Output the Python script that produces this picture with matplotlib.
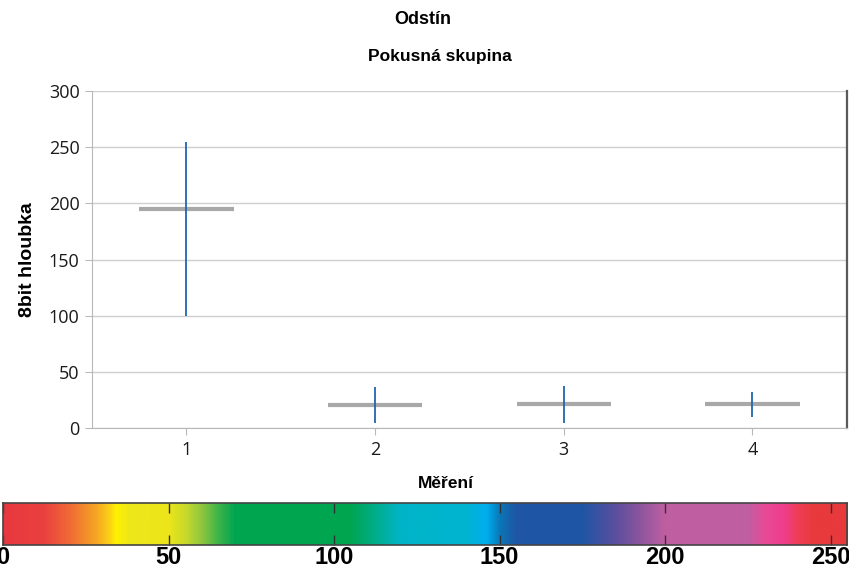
import numpy as np
import matplotlib
matplotlib.use("Agg")
import matplotlib.pyplot as plt
from matplotlib import font_manager
from matplotlib.colors import LinearSegmentedColormap

# ---- data -------------------------------------------------------------
measurements = [1, 2, 3, 4]
mean_vals = [195, 20.5, 21.5, 21.5]
min_vals = [100, 4.5, 4.5, 9.5]
max_vals = [255, 36.5, 37.5, 32]

y_ticks = [0, 50, 100, 150, 200, 250, 300]
hue_ticks = [0, 50, 100, 150, 200, 250]

# hue scale stops (value, colour)
hue_stops = [0, 12, 20, 28, 32, 34, 38, 50, 55, 60, 65, 70, 105, 115, 120,
             140, 146, 150, 155, 175, 185, 192, 200, 225, 230, 236, 240, 245, 255]
hue_colors = ["#e8383f", "#ea4040", "#f06a35", "#f5a623", "#fcd116", "#fff200",
              "#ede71a", "#ebe51a", "#c8d92b", "#8dc63f", "#3cb449", "#00a550",
              "#00a550", "#00b0a0", "#00b4c8", "#00b4d0", "#00aeef", "#0a77b8",
              "#1f55a5", "#1f55a5", "#5b4f9e", "#8a559e", "#bf5fa1", "#bf5fa1",
              "#e84a98", "#ee3e8a", "#ef3d57", "#e8393c", "#e8393c"]

# ---- fonts ------------------------------------------------------------
names = {f.name for f in font_manager.fontManager.ttflist}
narrow = "Liberation Sans Narrow" if "Liberation Sans Narrow" in names else "Liberation Sans"
tick_font = "Open Sans"
bold_font = "Liberation Sans"

fig = plt.figure(figsize=(8.49, 5.70), dpi=100)

# ---- main chart -------------------------------------------------------
ax = fig.add_axes([0.1084, 0.249, 0.889, 0.5913])
ax.vlines(measurements, min_vals, max_vals, color="#1f66b0", lw=1.3, zorder=3)
ax.hlines(mean_vals, np.array(measurements) - 0.25, np.array(measurements) + 0.25,
          color="#a8a8a8", lw=3.0, zorder=2)

ax.set_xlim(0.5, 4.5)
ax.set_ylim(0, 300)
ax.set_yticks(y_ticks)
ax.set_xticks(measurements)
ax.grid(axis="y", color="#cfcfcf", lw=1.0)
ax.set_axisbelow(True)
for s in ["left", "bottom"]:
    ax.spines[s].set_color("#b8b8b8")
ax.spines["top"].set_visible(False)
ax.spines["right"].set_color("#5a5a5a")
ax.spines["right"].set_linewidth(1.6)
ax.tick_params(axis="both", length=5, color="#b8b8b8", labelsize=13, pad=4)
for lab in ax.get_xticklabels() + ax.get_yticklabels():
    lab.set_family(tick_font)
    lab.set_color("#1a1a1a")

ax.set_ylabel("8bit hloubka", fontsize=14, fontweight="bold", family=bold_font, labelpad=9)

fig.text(0.498, 0.965, "Odstín", ha="center", va="center", fontsize=13,
         fontweight="bold", family=bold_font)
fig.text(0.518, 0.900, "Pokusná skupina", ha="center", va="center", fontsize=12.5,
         fontweight="bold", family=bold_font)
fig.text(0.525, 0.1526, "Měření", ha="center", va="center", fontsize=12.5,
         fontweight="bold", family=bold_font)

# ---- hue colour bar ---------------------------------------------------
cmap = LinearSegmentedColormap.from_list(
    "hue", list(zip(np.array(hue_stops) / 255.0, hue_colors)), N=512)
cax = fig.add_axes([0.0035, 0.0439, 0.9945, 0.0737])
gradient = np.linspace(0, 255, 512)[None, :]
cax.imshow(gradient, cmap=cmap, aspect="auto", extent=[0, 255, 0, 1], vmin=0, vmax=255)
cax.set_xlim(0, 255)
cax.set_yticks([])
cax.set_xticks(hue_ticks)
cax.tick_params(axis="x", direction="in", top=True, bottom=True, length=7,
                width=1.0, color="#333333", labelsize=17, pad=1)
for lab in cax.get_xticklabels():
    lab.set_family(narrow)
    lab.set_fontweight("bold")
for s in cax.spines.values():
    s.set_color("#444444")
    s.set_linewidth(1.2)

fig.savefig("out.png", dpi=100)
